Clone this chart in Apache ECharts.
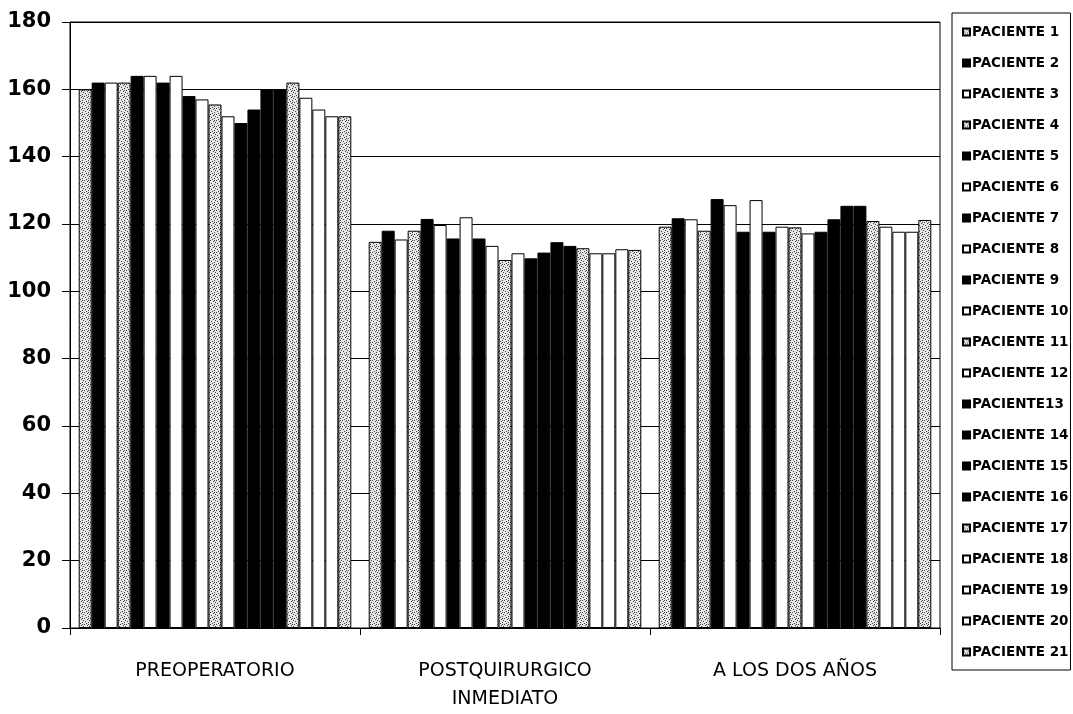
<!DOCTYPE html>
<html>
<head>
<meta charset="utf-8">
<script src="https://cdn.jsdelivr.net/npm/echarts@6/dist/echarts.min.js"></script>
<style>
  html, body { margin: 0; padding: 0; background: #fff; }
  #chart { width: 1073px; height: 714px; }
</style>
</head>
<body>
<div id="chart"></div>
<script>
const categorias = ['PREOPERATORIO', 'POSTQUIRURGICO\nINMEDIATO', 'A LOS DOS AÑOS'];
const pacientes = ['PACIENTE 1', 'PACIENTE 2', 'PACIENTE 3', 'PACIENTE 4', 'PACIENTE 5', 'PACIENTE 6',
    'PACIENTE 7', 'PACIENTE 8', 'PACIENTE 9', 'PACIENTE 10', 'PACIENTE 11', 'PACIENTE 12', 'PACIENTE13',
    'PACIENTE 14', 'PACIENTE 15', 'PACIENTE 16', 'PACIENTE 17', 'PACIENTE 18', 'PACIENTE 19',
    'PACIENTE 20', 'PACIENTE 21'];
const preoperatorio = [160, 162, 162, 162, 164, 164, 162, 164, 158, 157, 155.5, 152, 150, 154, 160, 160, 162, 157.5, 154, 152, 152];
const postquirurgico = [114.7, 118, 115.4, 118, 121.5, 119.7, 115.7, 122, 115.7, 113.5, 109.3, 111.3, 109.8, 111.5, 114.6, 113.5, 112.8, 111.3, 111.3, 112.5, 112.3];
const dosAnios = [119.2, 121.7, 121.4, 118, 127.4, 125.6, 117.7, 127.1, 117.7, 119.2, 119, 117.2, 117.7, 121.4, 125.4, 125.4, 120.9, 119.2, 117.7, 117.7, 121.2];
const ticksY = [0, 20, 40, 60, 80, 100, 120, 140, 160, 180];

// relleno de cada paciente (solo estilo)
const relleno = ['punto', 'negro', 'blanco', 'punto', 'negro', 'blanco', 'negro', 'blanco', 'negro', 'blanco',
    'punto', 'blanco', 'negro', 'negro', 'negro', 'negro', 'punto', 'blanco', 'blanco', 'blanco', 'punto'];

// patron punteado tipo fotocopia
const patron = document.createElement('canvas');
patron.width = 6;
patron.height = 6;
const ctx = patron.getContext('2d');
ctx.fillStyle = '#e6e6e6';
ctx.fillRect(0, 0, 6, 6);
ctx.fillStyle = '#444';
[[0, 0], [3, 1], [1, 3], [4, 4], [5, 2], [2, 5], [4, 0]].forEach(p => ctx.fillRect(p[0], p[1], 1, 1));

const colorDe = tipo => {
    if (tipo === 'negro') return '#000';
    if (tipo === 'blanco') return '#fff';
    return { image: patron, repeat: 'repeat' };
};

const chart = echarts.init(document.getElementById('chart'));
const fuente = 'DejaVu Sans';

const option = {
    animation: false,
    grid: {
        left: 70, right: 133, top: 22, bottom: 86,
        show: true, borderColor: '#000', borderWidth: 1
    },
    legend: {
        orient: 'vertical',
        left: 952, top: 13,
        padding: [12, 2, 11, 10],
        borderColor: '#000', borderWidth: 1,
        itemWidth: 7, itemHeight: 7, itemGap: 17,
        icon: 'rect',
        textStyle: { fontFamily: fuente, fontWeight: 'bold', fontSize: 13.5, lineHeight: 14, color: '#000', padding: [0, 0, 0, -3] },
        data: pacientes
    },
    xAxis: {
        type: 'category',
        data: categorias,
        axisLine: { lineStyle: { color: '#000', width: 1 } },
        axisTick: { show: true, length: 7, lineStyle: { color: '#000' } },
        axisLabel: { margin: 29, fontFamily: fuente, fontSize: 19, lineHeight: 28, color: '#000' }
    },
    yAxis: {
        type: 'value',
        min: ticksY[0], max: ticksY[ticksY.length - 1], interval: 20,
        axisLine: { show: true, lineStyle: { color: '#000', width: 1 } },
        axisTick: { show: true, length: 8, lineStyle: { color: '#000' } },
        axisLabel: { margin: 19, fontFamily: fuente, fontWeight: 'bold', fontSize: 21, color: '#000' },
        splitLine: { show: true, lineStyle: { color: '#000', width: 1 } }
    },
    series: pacientes.map((nombre, i) => ({
        name: nombre,
        type: 'bar',
        barGap: '0%',
        barCategoryGap: '6%',
        data: [preoperatorio[i], postquirurgico[i], dosAnios[i]],
        itemStyle: { color: colorDe(relleno[i]), borderColor: '#000', borderWidth: 1 }
    }))
};

chart.setOption(option);
window.addEventListener('resize', () => chart.resize());
</script>
</body>
</html>
